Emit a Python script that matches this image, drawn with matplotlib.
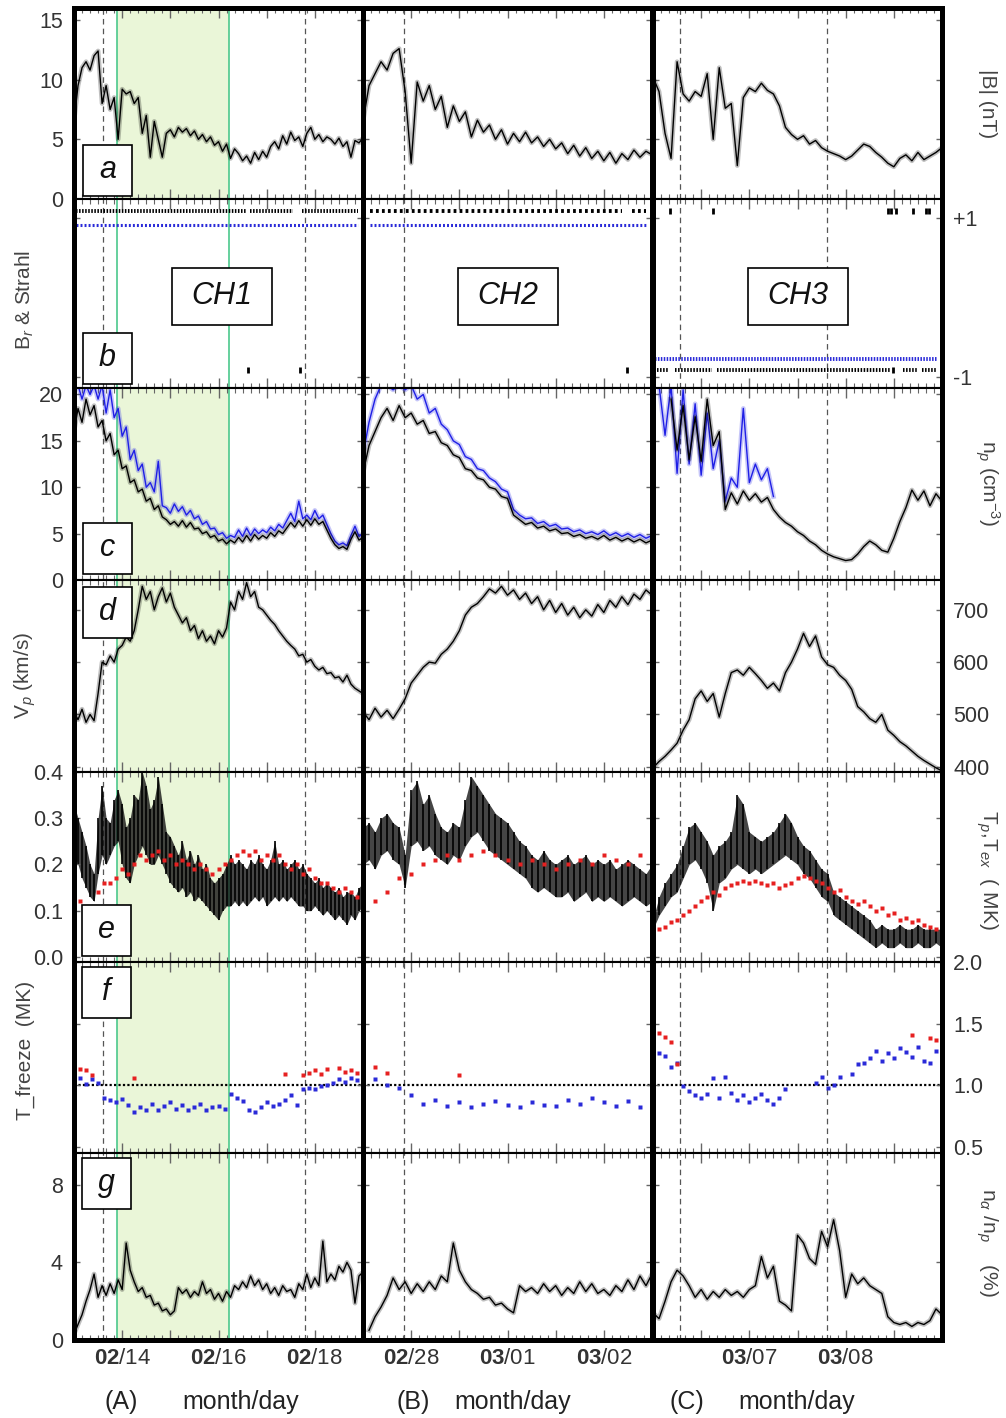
import numpy as np
import matplotlib.pyplot as plt
from matplotlib.patches import Rectangle
from matplotlib.ticker import MultipleLocator, FuncFormatter

plt.rcParams['font.family'] = ['Liberation Sans', 'DejaVu Sans']
plt.rcParams['mathtext.fontset'] = 'custom'
plt.rcParams['mathtext.rm'] = 'Liberation Sans'
plt.rcParams['mathtext.it'] = 'Liberation Sans:italic'
plt.rcParams['mathtext.bf'] = 'Liberation Sans:bold'
plt.rcParams['lines.scale_dashes'] = False

nan = np.nan

# ---- interval A: 02/13 00h - 02/19 00h (days), lines at 2 h, dots at 3 h ----
bA = [6.5, 9.5, 11.0, 11.5, 10.8, 12.0, 12.4, 8.0, 9.5, 7.5,
      8.5, 5.0, 9.2, 8.8, 9.0, 8.0, 8.5, 5.5, 7.0, 3.5,
      6.5, 5.0, 3.5, 5.5, 5.8, 5.2, 6.0, 5.6, 5.9, 5.3,
      5.7, 5.0, 5.4, 4.8, 5.2, 4.5, 4.8, 4.0, 4.6, 3.4,
      4.2, 3.8, 3.2, 3.6, 3.0, 3.9, 3.3, 4.0, 3.5, 4.4,
      4.8, 4.2, 5.3, 4.6, 5.6, 4.9, 5.2, 4.4, 5.5, 6.0,
      5.0, 5.4, 4.8, 5.2, 5.0, 4.6, 5.1, 4.4, 4.8, 3.5,
      4.9, 4.7, 5.1]
npA = [16.0, 18.5, 17.0, 19.5, 17.8, 18.8, 16.5, 17.2, 15.0, 15.8,
       13.5, 14.0, 12.0, 12.3, 10.5, 10.8, 9.5, 9.8, 8.5, 8.8,
       7.6, 8.0, 6.8, 6.5, 6.0, 6.3, 5.8, 6.4, 5.7, 6.2,
       5.5, 5.6, 5.0, 5.2, 4.6, 4.8, 4.2, 4.4, 3.9, 4.3,
       4.0, 4.6, 4.1, 4.8, 4.2, 4.9, 4.4, 4.8, 4.5, 5.1,
       4.7, 5.3, 5.0, 5.6, 6.2, 5.7, 6.4, 5.8, 6.5, 5.9,
       6.6, 6.0, 6.3, 5.4, 4.5, 3.8, 3.4, 3.6, 3.3, 4.4,
       5.2, 4.3, 4.6]
npA_alt = [20.5, 21, 19.5, 21, 20, 21, 19.5, 21, 18, 20.5,
           17.5, 18.5, 15.5, 16.5, 13.0, 14.0, 11.8, 12.5, 10.0, 10.5,
           9.5, 12.8, 8.0, 7.8, 7.2, 8.2, 7.4, 7.9, 7.0, 7.5,
           6.6, 6.9, 6.0, 6.3, 5.5, 5.6, 4.9, 5.1, 4.5, 4.8,
           4.6, 5.4, 4.7, 5.6, 4.8, 5.5, 5.0, 5.4, 5.1, 5.7,
           5.3, 6.0, 5.6, 6.4, 7.2, 6.3, 8.5, 6.6, 7.0, 6.5,
           7.5, 6.6, 7.0, 6.0, 5.0, 4.2, 3.8, 4.0, 3.7, 4.8,
           5.8, 4.7, 5.0]
vpA = [505, 490, 510, 485, 500, 488, 540, 600, 595, 612,
       600, 625, 632, 648, 640, 660, 700, 745, 720, 735,
       700, 725, 742, 715, 732, 705, 690, 675, 685, 660,
       670, 645, 660, 640, 650, 635, 660, 648, 665, 715,
       700, 735, 720, 752, 725, 735, 705, 700, 690, 680,
       672, 660, 650, 640, 632, 625, 612, 615, 600, 605,
       592, 585, 590, 578, 580, 570, 572, 562, 575, 558,
       550, 545, 540]
tpA_lo = [.22, .20, .17, .15, .13, .12, .18, .22, .20, .22,
          .24, .25, .20, .17, .16, .20, .22, .24, .22, .20,
          .20, .22, .20, .18, .16, .15, .14, .15, .13, .14,
          .12, .13, .12, .11, .10, .09, .08, .10, .11, .11,
          .12, .11, .12, .11, .12, .13, .12, .13, .11, .12,
          .13, .12, .13, .12, .13, .12, .11, .11, .10, .10,
          .11, .10, .09, .10, .09, .08, .09, .08, .07, .09,
          .08, .10, .11]
tpA_hi = [.33, .30, .27, .24, .20, .18, .30, .37, .30, .29,
          .34, .36, .33, .28, .30, .35, .34, .40, .37, .32,
          .34, .39, .33, .27, .26, .24, .22, .25, .21, .23,
          .20, .22, .19, .20, .17, .16, .17, .18, .20, .22,
          .20, .21, .20, .19, .21, .20, .22, .20, .19, .21,
          .25, .20, .21, .19, .20, .21, .19, .20, .18, .17,
          .16, .17, .15, .16, .15, .14, .15, .13, .14, .14,
          .13, .15, .16]
texA = [.13, .12, nan, nan, .14, .16, .16, .17, .19, .18,
        .20, .22, .21, .22, .23, .21, .22, .20, .21, .20,
        .19, .20, .19, .18, .19, .20, .21, .22, .23, .22,
        .23, .21, .22, .21, .22, .20, .19, .20, .18, .19,
        .17, .16, .16, .15, .14, .15, .14, .13, .12]
frzA_lo = [1.03, 1.06, 1.01, 1.05, 1.02, 0.90, 0.88, 0.86, 0.89, 0.84,
           0.78, 0.82, 0.80, 0.85, 0.80, 0.83, 0.86, 0.81, 0.84, 0.80,
           0.82, 0.85, 0.80, 0.82, 0.83, 0.81, 0.93, 0.90, 0.87, 0.80,
           0.78, 0.82, 0.86, 0.83, 0.85, 0.88, 0.92, 0.84, 0.97, 0.98,
           0.97, 0.99, 1.00, 1.02, 1.05, 1.03, 1.06, 1.04, nan]
frzA_hi = [1.10, 1.13, 1.12, 1.08, nan, nan, nan, nan, nan, nan,
           1.06, nan, nan, nan, nan, nan, nan, nan, nan, nan,
           nan, nan, nan, nan, nan, nan, nan, nan, nan, nan,
           nan, nan, nan, nan, nan, 1.09, nan, nan, 1.08, 1.10,
           1.12, 1.09, 1.13, nan, 1.14, 1.11, 1.12, 1.10, nan]
naA = [0.3, 0.8, 1.3, 2.0, 2.6, 3.4, 2.2, 2.8, 2.3, 2.9,
       2.4, 3.1, 2.6, 5.0, 3.6, 3.0, 2.5, 2.7, 2.2, 2.3,
       1.8, 1.9, 1.5, 1.6, 1.3, 1.5, 2.7, 2.4, 2.6, 2.2,
       2.5, 2.3, 3.0, 2.4, 2.6, 2.1, 2.4, 2.0, 2.5, 2.2,
       2.8, 2.6, 3.0, 2.7, 3.3, 2.8, 3.1, 2.6, 2.9, 2.4,
       2.7, 2.3, 2.8, 2.5, 2.6, 2.2, 2.9, 2.6, 3.4, 2.7,
       3.2, 2.8, 5.1, 3.0, 3.4, 3.1, 3.8, 3.5, 4.0, 3.6,
       1.9, 3.3, 3.5]
brA_pos = [(0.04, 3.59), (3.65, 4.55), (4.73, 5.90)]
brA_neg = []
brA_pos_pts = []
brA_neg_pts = [3.61, 4.69]
stA_pos = [(0.04, 5.90)]
stA_neg = []

# ---- interval B: 02/27 12h - 03/02 12h, lines at 1.5 h, dots at 3 h ----
bB = [6.5, 9.5, 10.5, 11.5, 10.8, 12.2, 12.6, 9.0, 3.0, 9.8,
      8.2, 9.5, 7.5, 8.6, 6.0, 7.8, 6.5, 7.3, 5.2, 6.6,
      5.6, 6.2, 5.0, 5.8, 4.6, 5.5, 4.8, 5.6, 4.7, 5.2,
      4.4, 5.0, 4.2, 4.7, 3.8, 4.5, 3.6, 4.3, 3.4, 4.0,
      3.2, 3.9, 3.0, 3.8, 3.3, 4.1, 3.5, 4.0, 3.7]
npB = [11.5, 14.5, 16.0, 17.5, 18.5, 17.2, 18.8, 17.5, 18.0, 16.8,
       17.2, 15.8, 16.0, 14.8, 14.5, 13.5, 13.2, 12.0, 11.8, 11.0,
       10.8, 10.0, 9.8, 9.0, 8.8, 7.0, 6.5, 6.0, 6.2, 5.6,
       5.8, 5.3, 5.5, 5.0, 5.1, 4.7, 4.9, 4.5, 4.7, 4.4,
       4.8, 4.3, 4.6, 4.2, 4.5, 4.1, 4.4, 4.0, 4.3]
npB_alt = [13.5, 17.0, 19.5, 21, 21, 20.5, 21, 20.5, 21, 19.5,
           20.0, 18.0, 18.5, 16.8, 16.2, 15.0, 14.6, 13.3, 13.0, 12.0,
           11.8, 11.0, 10.6, 9.8, 9.5, 7.6, 7.0, 6.6, 6.7, 6.1,
           6.3, 5.8, 6.0, 5.5, 5.6, 5.2, 5.4, 5.0, 5.2, 4.9,
           5.3, 4.8, 5.1, 4.7, 5.0, 4.6, 4.9, 4.5, 4.8]
vpB = [505, 490, 512, 495, 508, 492, 510, 530, 560, 575,
       590, 600, 598, 615, 625, 640, 660, 690, 705, 712,
       725, 740, 732, 745, 728, 738, 720, 732, 712, 725,
       700, 718, 695, 712, 690, 705, 685, 700, 688, 710,
       695, 718, 705, 725, 710, 730, 720, 738, 728]
tpB_lo = [.20, .21, .19, .22, .23, .21, .20, .15, .24, .25,
          .23, .24, .22, .21, .20, .22, .21, .24, .26, .27,
          .25, .23, .22, .21, .20, .19, .18, .17, .15, .14,
          .15, .14, .13, .13, .14, .12, .13, .14, .12, .13,
          .12, .13, .12, .11, .12, .13, .12, .11, .12]
tpB_hi = [.28, .29, .27, .30, .31, .29, .28, .22, .36, .38,
          .33, .35, .31, .28, .27, .29, .28, .34, .39, .37,
          .35, .33, .31, .30, .29, .27, .25, .24, .22, .21,
          .23, .21, .20, .21, .22, .20, .21, .22, .20, .21,
          .20, .21, .19, .20, .21, .20, .19, .18, .20]
texB = [.10, .12, .14, .17, .18, .20, .21, .22, .21, .22,
        .23, .22, .21, .20, .21, .20, .19, .20, .21, .20,
        .22, .21, .20, .22, .21]
frzB_lo = [1.02, 1.05, 1.00, 0.98, 0.92, 0.85, 0.88, 0.83, 0.86, 0.82,
           0.85, 0.87, 0.84, 0.82, 0.86, 0.84, 0.83, 0.88, 0.85, 0.90,
           0.86, 0.83, 0.87, 0.82, 0.85]
frzB_hi = [1.12, 1.15, 1.10, nan, nan, nan, nan, nan, 1.08, nan,
           nan, nan, nan, nan, nan, nan, nan, nan, nan, nan,
           nan, nan, nan, nan, nan]
naB = [nan, 0.5, 1.2, 1.7, 2.3, 3.2, 2.6, 3.0, 2.4, 2.9,
       2.5, 3.0, 2.6, 3.3, 3.0, 5.0, 3.6, 3.0, 2.6, 2.4,
       2.1, 2.2, 1.8, 1.9, 1.6, 1.4, 2.8, 2.5, 2.7, 2.4,
       2.9, 2.5, 2.8, 2.3, 2.7, 2.4, 3.0, 2.5, 2.9, 2.4,
       2.6, 2.3, 2.8, 2.5, 3.1, 2.6, 3.3, 2.8, 3.4]
brB_pos = [(0.07, 2.69), (2.79, 2.94)]
brB_neg = []
brB_pos_pts = []
brB_neg_pts = [2.74]
stB_pos = [(0.07, 2.94)]
stB_neg = []

# ---- interval C: 03/06 00h - 03/09 00h, lines and dots at 1.5 h ----
bC = [10.2, 9.0, 5.5, 3.4, 11.5, 8.8, 8.2, 9.0, 8.6, 10.5,
      5.0, 11.0, 7.6, 8.0, 2.8, 8.5, 9.3, 9.0, 9.7, 9.1,
      8.8, 7.8, 6.0, 5.4, 5.0, 5.3, 4.6, 4.9, 4.3, 4.0,
      3.8, 3.6, 3.3, 3.6, 4.1, 4.6, 4.4, 3.9, 3.5, 3.0,
      2.7, 3.4, 3.7, 3.2, 3.9, 3.3, 3.6, 3.9, 4.3]
npC = [nan, nan, nan, 19.5, 14.0, 18.8, 13.0, 17.6, 12.8, 19.5,
       14.5, 16.0, 7.6, 9.4, 8.2, 9.6, 8.6, 9.3, 8.4, 8.9,
       7.6, 6.8, 6.2, 5.8, 5.2, 4.8, 4.2, 3.8, 3.2, 2.8,
       2.5, 2.3, 2.1, 2.2, 2.8, 3.6, 4.2, 3.8, 3.2, 3.0,
       4.5, 6.3, 7.8, 9.7, 8.6, 9.6, 8.0, 9.3, 8.5]
npC_alt = [nan, 21, 15.6, 21, 11.5, 20.5, 12.5, 19.0, 11.3, 18.0,
           12.0, 15.0, 8.5, 11.0, 10.0, 18.5, 10.5, 12.5, 10.8, 12.0,
           9.0, nan, nan, nan, nan, nan, nan, nan, nan, nan,
           nan, nan, nan, nan, nan, nan, nan, nan, nan, nan,
           nan, nan, nan, nan, nan, nan, nan, nan, nan]
vpC = [398, 410, 420, 432, 445, 470, 490, 530, 545, 525,
       540, 495, 540, 580, 585, 575, 590, 578, 565, 550,
       560, 545, 580, 600, 625, 655, 630, 650, 610, 595,
       590, 575, 565, 548, 515, 505, 492, 485, 500, 470,
       460, 448, 440, 430, 420, 412, 405, 398, 392]
tpC_lo = [.06, .09, .11, .13, .14, .17, .20, .21, .19, .16,
          .10, .16, .17, .19, .20, .19, .18, .19, .18, .19,
          .20, .21, .22, .21, .20, .18, .17, .15, .13, .12,
          .09, .08, .07, .06, .05, .04, .03, .02, .03, .02,
          .02, .03, .02, .02, .03, .02, .02, .03, .02]
tpC_hi = [.08, .13, .16, .18, .20, .24, .28, .29, .27, .25,
          .22, .24, .25, .27, .35, .33, .27, .26, .25, .26,
          .27, .29, .31, .29, .26, .24, .23, .21, .19, .18,
          .14, .13, .12, .11, .10, .09, .08, .06, .07, .06,
          .06, .07, .06, .06, .07, .06, .06, .06, .06]
texC = [.065, .06, .065, .075, .08, .09, .10, .11, .12, .13,
        .14, .135, .15, .155, .16, .165, .16, .165, .16, .155,
        .16, .15, .155, .16, .17, .175, .17, .165, .16, .15,
        .14, .145, .13, .12, .115, .12, .11, .10, .105, .09,
        .095, .08, .085, .075, .08, .07, .065, .06, .055]
frzC_lo = [1.23, 1.26, 1.24, 1.15, 1.18, 0.99, 0.95, 0.92, 0.90, 0.93,
           1.06, 0.90, 1.07, 0.94, 0.88, 0.92, 0.86, 0.90, 0.93, 0.88,
           0.85, 0.90, 0.97, nan, nan, nan, nan, 1.02, 1.07, 0.98,
           1.00, 1.07, nan, 1.09, 1.17, 1.18, 1.22, 1.28, 1.20, 1.26,
           1.22, 1.30, 1.27, 1.23, 1.31, 1.20, 1.18, 1.28, 1.25]
frzC_hi = [1.47, 1.42, 1.39, 1.35, 1.17, nan, nan, nan, nan, nan,
           nan, nan, nan, nan, nan, nan, nan, nan, nan, nan,
           nan, nan, nan, nan, nan, nan, nan, nan, nan, nan,
           nan, nan, nan, nan, nan, nan, nan, nan, nan, nan,
           nan, nan, nan, 1.41, nan, nan, 1.38, 1.37, nan]
naC = [1.4, 1.1, 2.0, 3.0, 3.6, 3.3, 2.8, 2.2, 2.6, 2.1,
       2.5, 2.2, 2.6, 2.3, 2.5, 2.2, 2.6, 2.8, 4.3, 3.2,
       3.8, 2.0, 1.8, 1.5, 5.4, 5.0, 4.2, 3.9, 5.6, 4.8,
       6.2, 4.6, 2.2, 3.4, 2.9, 3.2, 2.8, 2.6, 2.4, 1.2,
       0.9, 0.8, 0.9, 0.7, 0.9, 0.8, 1.0, 1.6, 1.3]
brC_pos = []
brC_neg = [(0.04, 0.16), (0.23, 0.61), (0.66, 2.46), (2.60, 2.74), (2.79, 2.95)]
brC_pos_pts = [0.18, 0.62, 2.44, 2.47, 2.52, 2.70, 2.83, 2.87]
brC_neg_pts = [2.49]
stC_pos = []
stC_neg = [(0.02, 2.95)]

# axis labels, dates and event markers
day_pos = [[1, 3, 5], [0.5, 1.5, 2.5], [1, 2]]
day_lab = [[('02', '14'), ('02', '16'), ('02', '18')],
           [('02', '28'), ('03', '01'), ('03', '02')],
           [('03', '07'), ('03', '08')]]
dashes_at = [[0.60, 4.80], [0.424], [0.28, 1.81]]
ch_span = (0.89, 3.22)
col_names = ['(A)', '(B)', '(C)']
ch_names = ['CH1', 'CH2', 'CH3']
panel_letters = ['a', 'b', 'c', 'd', 'e', 'f', 'g']

W, H = 1006, 1418
fig = plt.figure(figsize=(W / 100, H / 100), dpi=100)
col_x = [74, 363, 653]
col_w = 289
row_y = [8, 199, 388, 580, 772, 962, 1153, 1340]

ylims = [(0, 16), (-1.14, 1.24), (0, 20.7), (390, 757), (-0.011, 0.4), (0.45, 2.0), (0, 9.64)]
yticks = [[0, 5, 10, 15], [-1, 1], [0, 5, 10, 15, 20], [400, 500, 600, 700],
          [0, 0.1, 0.2, 0.3, 0.4], [0.5, 1.0, 1.5, 2.0], [0, 4, 8]]
yticklabels = [['0', '5', '10', '15'], ['-1', '+1'], ['0', '5', '10', '15', '20'],
               ['400', '500', '600', '700'], ['0.0', '0.1', '0.2', '0.3', '0.4'],
               ['0.5', '1.0', '1.5', '2.0'], ['0', '4', '8']]
left_rows = [0, 2, 4, 6]
right_rows = [1, 3, 5]

cols = [
    dict(span=6, major=1.0, minor=1 / 6, b=bA, np=npA, np2=npA_alt, vp=vpA, lo=tpA_lo, hi=tpA_hi,
         tex=texA, fz=frzA_lo, fz2=frzA_hi, na=naA, brp=brA_pos, brn=brA_neg, brpp=brA_pos_pts,
         brnp=brA_neg_pts, stp=stA_pos, stn=stA_neg, dot=(1.1, 1.1)),
    dict(span=3, major=0.5, minor=1 / 12, b=bB, np=npB, np2=npB_alt, vp=vpB, lo=tpB_lo, hi=tpB_hi,
         tex=texB, fz=frzB_lo, fz2=frzB_hi, na=naB, brp=brB_pos, brn=brB_neg, brpp=brB_pos_pts,
         brnp=brB_neg_pts, stp=stB_pos, stn=stB_neg, dot=(2.0, 2.3)),
    dict(span=3, major=0.5, minor=1 / 12, b=bC, np=npC, np2=npC_alt, vp=vpC, lo=tpC_lo, hi=tpC_hi,
         tex=texC, fz=frzC_lo, fz2=frzC_hi, na=naC, brp=brC_pos, brn=brC_neg, brpp=brC_pos_pts,
         brnp=brC_neg_pts, stp=stC_pos, stn=stC_neg, dot=(1.1, 1.1)),
]


def grid(span, vals):
    return np.linspace(0, span, len(vals))


def trace(ax, t, y, color):
    # soft halo under a thin line, like a dense high-cadence trace
    ax.plot(t, y, color=color, lw=3.4, alpha=0.25, solid_joinstyle='round')
    ax.plot(t, y, color=color, lw=1.0)


def date_label(m, d):
    return r'$\mathbf{%s}$/%s' % (m, d)


for c, cfg in enumerate(cols):
    span = cfg['span']
    labs = {round(p, 2): date_label(*md) for p, md in zip(day_pos[c], day_lab[c])}
    for r in range(7):
        y0, y1 = row_y[r], row_y[r + 1]
        ax = fig.add_axes([col_x[c] / W, 1 - y1 / H, col_w / W, (y1 - y0) / H])
        ax.set_xlim(0, span)
        ax.set_ylim(*ylims[r])
        for s in ['top', 'bottom']:
            ax.spines[s].set_linewidth(1.5)
        for s in ['left', 'right']:
            ax.spines[s].set_linewidth(3.6)
        if r == 0:
            ax.spines['top'].set_linewidth(3.6)
        if r == 6:
            ax.spines['bottom'].set_linewidth(3.6)

        ax.xaxis.set_major_locator(MultipleLocator(cfg['major']))
        ax.xaxis.set_minor_locator(MultipleLocator(cfg['minor']))
        ax.xaxis.set_major_formatter(FuncFormatter(lambda v, p, labs=labs: labs.get(round(v, 2), '')))
        ax.tick_params(axis='x', which='both', direction='in', top=True, bottom=True,
                       labelbottom=(r == 6), color='#666', labelsize=16, labelcolor='#333', pad=6)
        ax.tick_params(axis='x', which='major', length=7, width=1.0)
        ax.tick_params(axis='x', which='minor', length=3.5, width=0.8)

        ax.set_yticks(yticks[r])
        ax.set_yticklabels(yticklabels[r])
        ax.tick_params(axis='y', direction='in', left=True, right=True, length=4, width=1.0,
                       color='#666', labelsize=15.5, labelcolor='#333', pad=8,
                       labelleft=(c == 0 and r in left_rows),
                       labelright=(c == 2 and r in right_rows))

        if c == 0:
            if r != 1:
                ax.axvspan(*ch_span, color='#eaf6d8', zorder=0, lw=0)
            for xv in ch_span:
                ax.axvline(xv, color='#4cc88c', lw=1.2, zorder=1)
        for xv in dashes_at[c]:
            ax.axvline(xv, color='#555', lw=0.9, ls=(0, (4, 3)), zorder=1)

        if r == 0:
            trace(ax, grid(span, cfg['b']), cfg['b'], 'black')
        elif r == 1:
            for s, e in cfg['brp']:
                ax.plot([s, e], [1.085, 1.085], color='black', lw=2.8, ls=(0, cfg['dot']))
            for s, e in cfg['brn']:
                ax.plot([s, e], [-0.915, -0.915], color='black', lw=2.8, ls=(0, cfg['dot']))
            for s, e in cfg['stp']:
                ax.plot([s, e], [0.91, 0.91], color='#2a2ad8', lw=2.2, ls=(0, (1.4, 1.5)))
            for s, e in cfg['stn']:
                ax.plot([s, e], [-0.77, -0.77], color='#2a2ad8', lw=2.8, ls=(0, (1.1, 1.0)))
            ax.plot(cfg['brpp'], [1.085] * len(cfg['brpp']), ls='none', marker='|', ms=5, mew=2, color='black')
            ax.plot(cfg['brnp'], [-0.915] * len(cfg['brnp']), ls='none', marker='|', ms=5, mew=2, color='black')
        elif r == 2:
            trace(ax, grid(span, cfg['np2']), cfg['np2'], '#1f1fe6')
            trace(ax, grid(span, cfg['np']), cfg['np'], 'black')
        elif r == 3:
            trace(ax, grid(span, cfg['vp']), cfg['vp'], 'black')
        elif r == 4:
            t = grid(span, cfg['lo'])
            ax.fill_between(t, cfg['lo'], cfg['hi'], color='#111', alpha=0.78, lw=0)
            ax.vlines(t, cfg['lo'], cfg['hi'], color='black', lw=1.2)
            ax.plot(grid(span, cfg['tex']), cfg['tex'], ls='none', marker='s', ms=2.6,
                    mec='none', color='#e62020')
        elif r == 5:
            ax.axhline(1.0, color='black', lw=1.6, ls=(0, (1.6, 1.6)), zorder=1)
            ax.plot(grid(span, cfg['fz']), cfg['fz'], ls='none', marker='s', ms=3.0,
                    mec='none', color='#2a2ad8')
            ax.plot(grid(span, cfg['fz2']), cfg['fz2'], ls='none', marker='s', ms=3.0,
                    mec='none', color='#e62020')
        elif r == 6:
            trace(ax, grid(span, cfg['na']), cfg['na'], 'black')

    # column caption
    cap_x = [(121, 241), (413, 513), (687, 797)][c]
    fig.text(cap_x[0] / W, 1 - 1402 / H, col_names[c], ha='center', va='center', fontsize=18, color='#222')
    fig.text(cap_x[1] / W, 1 - 1402 / H, 'month/day', ha='center', va='center', fontsize=18, color='#222')


def boxed(x, y, w, h, text):
    fig.add_artist(Rectangle((x / W, 1 - (y + h) / H), w / W, h / H, transform=fig.transFigure,
                             facecolor='white', edgecolor='black', lw=1.2, zorder=5))
    fig.text((x + w / 2) / W, 1 - (y + h / 2) / H, text, ha='center', va='center',
             fontsize=22, style='italic', color='#111', zorder=6)


letter_boxes = [(83, 145), (83, 333), (83, 523), (83, 587), (82, 905), (82, 967), (82, 1158)]
for (bx, by), letter in zip(letter_boxes, panel_letters):
    boxed(bx, by, 49, 51, letter)

for bx, name in zip([172, 458, 748], ch_names):
    boxed(bx, 268, 100, 57, name)

# quantity labels
left_labels = [('B$_r$ & Strahl', 300), ('V$_p$ (km/s)', 675), ('T_freeze  (MK)', 1050)]
for txt, yc in left_labels:
    fig.text(25 / W, 1 - yc / H, txt, rotation=90, ha='center', va='center', fontsize=15, color='#444')
right_labels = [('|B| (nT)', 104), ('n$_p$ (cm$^{-3}$)', 483),
                ('T$_p$,T$_{ex}$  ( MK)', 870), (r'n$_\alpha$ /n$_p$    (%)', 1243)]
for txt, yc in right_labels:
    fig.text(987 / W, 1 - yc / H, txt, rotation=270, ha='center', va='center', fontsize=15, color='#444')

fig.savefig('out.png', dpi=100)
